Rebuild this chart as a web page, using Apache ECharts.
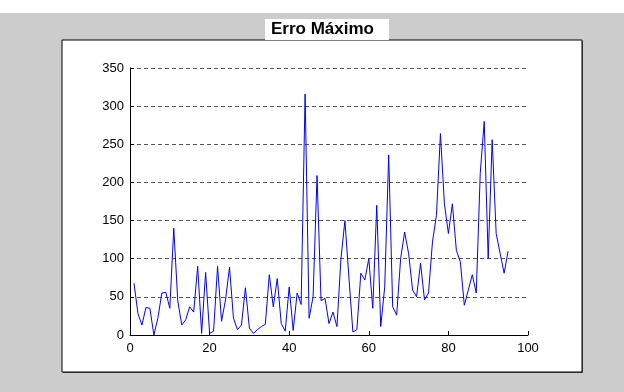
<!DOCTYPE html>
<html>
<head>
<meta charset="utf-8">
<script src="https://cdn.jsdelivr.net/npm/echarts@6/dist/echarts.min.js"></script>
<style>
  html, body { margin: 0; padding: 0; background: #ffffff; }
  #chart { width: 624px; height: 392px; }
</style>
</head>
<body>
<div id="chart"></div>
<script>
// Maximum error per sample, samples numbered from 1
const firstSample = 1;
const maxError = [
  68, 28, 13, 36, 35, 0, 22, 55, 56, 35,
  140, 45, 13, 20, 37, 30, 90, 2, 82, 2,
  5, 90, 18, 46, 89, 22, 7, 13, 62, 9,
  2, 7, 11, 14, 79, 37, 74, 15, 5, 63,
  6, 55, 40, 316, 22, 50, 209, 45, 48, 15,
  30, 11, 100, 150, 76, 4, 7, 81, 72, 100,
  35, 170, 11, 63, 236, 37, 26, 100, 135, 107,
  59, 50, 94, 46, 55, 122, 157, 264, 172, 133,
  172, 111, 96, 39, 59, 79, 55, 212, 280, 100,
  256, 133, 107, 81, 110
];
const xTicks = [0, 20, 40, 60, 80, 100];
const yTicks = [0, 50, 100, 150, 200, 250, 300, 350];
const titleText = 'Erro Máximo';

const points = maxError.map((v, i) => [firstSample + i, v]);

const chart = echarts.init(document.getElementById('chart'), null, { renderer: 'canvas' });

const labelFont = { color: '#000', fontFamily: 'Liberation Sans, Arial, sans-serif', fontSize: 13 };

chart.setOption({
  backgroundColor: '#cccccc',
  animation: false,
  graphic: [
    // white strip along the top edge
    { type: 'rect', z: -10, shape: { x: 0, y: 0, width: 624, height: 13 }, style: { fill: '#ffffff' } },
    // figure panel with its shadow
    { type: 'rect', z: -10, shape: { x: 63, y: 41, width: 520, height: 332 }, style: { fill: '#555555' } },
    { type: 'rect', z: -9, shape: { x: 62, y: 40, width: 520, height: 332 }, style: { fill: '#ffffff', stroke: '#000000', lineWidth: 1 } },
    // title box
    { type: 'rect', z: 5, shape: { x: 265, y: 19, width: 124, height: 21 }, style: { fill: '#ffffff' } },
    {
      type: 'text', z: 6, left: 327 - 56, top: 21,
      style: { text: titleText, fill: '#000', font: 'bold 17px "Liberation Sans", Arial, sans-serif' }
    }
  ],
  grid: { left: 130, right: 96, top: 68, bottom: 57, containLabel: false },
  xAxis: {
    type: 'value',
    min: xTicks[0],
    max: xTicks[xTicks.length - 1],
    interval: xTicks[1] - xTicks[0],
    axisLine: { show: true, onZero: false, lineStyle: { color: '#000', width: 1 } },
    axisTick: { show: true, inside: true, length: 4, lineStyle: { color: '#000' } },
    axisLabel: Object.assign({ margin: 7 }, labelFont),
    splitLine: { show: false }
  },
  yAxis: {
    type: 'value',
    min: yTicks[0],
    max: yTicks[yTicks.length - 1],
    interval: yTicks[1] - yTicks[0],
    axisLine: { show: true, lineStyle: { color: '#000', width: 1 } },
    axisTick: { show: true, inside: true, length: 4, lineStyle: { color: '#000' } },
    axisLabel: Object.assign({ margin: 6 }, labelFont),
    splitLine: { show: true, lineStyle: { color: '#555555', type: [4, 3], width: 1 } }
  },
  series: [{
    type: 'line',
    data: points,
    showSymbol: false,
    symbol: 'none',
    lineStyle: { color: '#0000ff', width: 1 },
    z: 3
  }]
});
</script>
</body>
</html>
